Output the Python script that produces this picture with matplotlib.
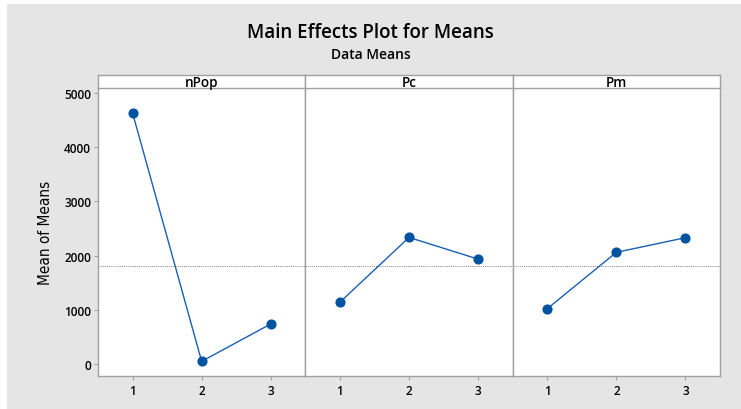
import numpy as np
import matplotlib
matplotlib.use("Agg")
import matplotlib.pyplot as plt
from matplotlib.patches import Rectangle

plt.rcParams['font.family'] = ['Open Sans', 'DejaVu Sans']

factors = ['nPop', 'Pc', 'Pm']
levels = [1, 2, 3]
npop_means = [4630, 50, 740]
pc_means = [1140, 2335, 1935]
pm_means = [1020, 2060, 2330]
series = [npop_means, pc_means, pm_means]
grand_mean = np.mean(npop_means + pc_means + pm_means)
yticks = [0, 1000, 2000, 3000, 4000, 5000]

W, H = 741, 410
fig = plt.figure(figsize=(W / 100, H / 100), dpi=100)
fig.patch.set_facecolor('white')
fig.patches.append(Rectangle((7 / W, 0), 1 - 7 / W, 1 - 5 / H, transform=fig.transFigure,
                             facecolor='#e5e5e5', edgecolor='none', zorder=-10))

fig.text(0.5, 1 - 33 / H, 'Main Effects Plot for Means', ha='center', va='center',
         fontsize=13.5, fontweight='semibold')
fig.text(0.5, 1 - 55 / H, 'Data Means', ha='center', va='center',
         fontsize=10, fontweight='semibold')

left, right = 98 / W, 720 / W
bottom, top = 1 - 377 / H, 1 - 89 / H
strip_top = 1 - 76 / H
pw = (right - left) / 3
edge = '#a0a0a0'

for i, (name, vals) in enumerate(zip(factors, series)):
    ax = fig.add_axes([left + i * pw, bottom, pw, top - bottom])
    ax.set_facecolor('white')
    ax.axhline(grand_mean, color='#808080', linestyle=(0, (1, 1.2)), linewidth=0.7, zorder=1)
    ax.plot(levels, vals, color='#1a5fb4', linewidth=1.0, marker='o', markersize=6.3,
            markerfacecolor='#0053a0', markeredgecolor='#0053a0', zorder=3)
    ax.set_xlim(0.5, 3.5)
    ax.set_ylim(-220, 5090)
    ax.set_xticks(levels)
    ax.set_xticklabels([str(l) for l in levels], fontsize=8.5, fontweight='semibold')
    ax.set_yticks(yticks)
    for s in ax.spines.values():
        s.set_color(edge)
        s.set_linewidth(1.0)
    ax.spines['top'].set_visible(False)
    ax.tick_params(axis='x', direction='out', length=3, color=edge, pad=3)
    if i == 0:
        ax.set_yticklabels([str(t) for t in yticks], fontsize=8.5, fontweight='semibold')
        ax.tick_params(axis='y', direction='out', length=3, color=edge, pad=2)
        ax.set_ylabel('Mean of Means', fontsize=11, family=['DejaVu Sans'],
                      fontstretch='condensed', labelpad=8)
    else:
        ax.tick_params(axis='y', left=False, labelleft=False)

    sx = fig.add_axes([left + i * pw, top, pw, strip_top - top])
    sx.set_facecolor('white')
    sx.set_xticks([])
    sx.set_yticks([])
    for s in sx.spines.values():
        s.set_color(edge)
        s.set_linewidth(1.0)
    sx.text(0.5, 0.45, name, transform=sx.transAxes, ha='center', va='center',
            fontsize=9.8, fontweight='semibold')

fig.savefig('out.png', dpi=100, facecolor=fig.get_facecolor())
